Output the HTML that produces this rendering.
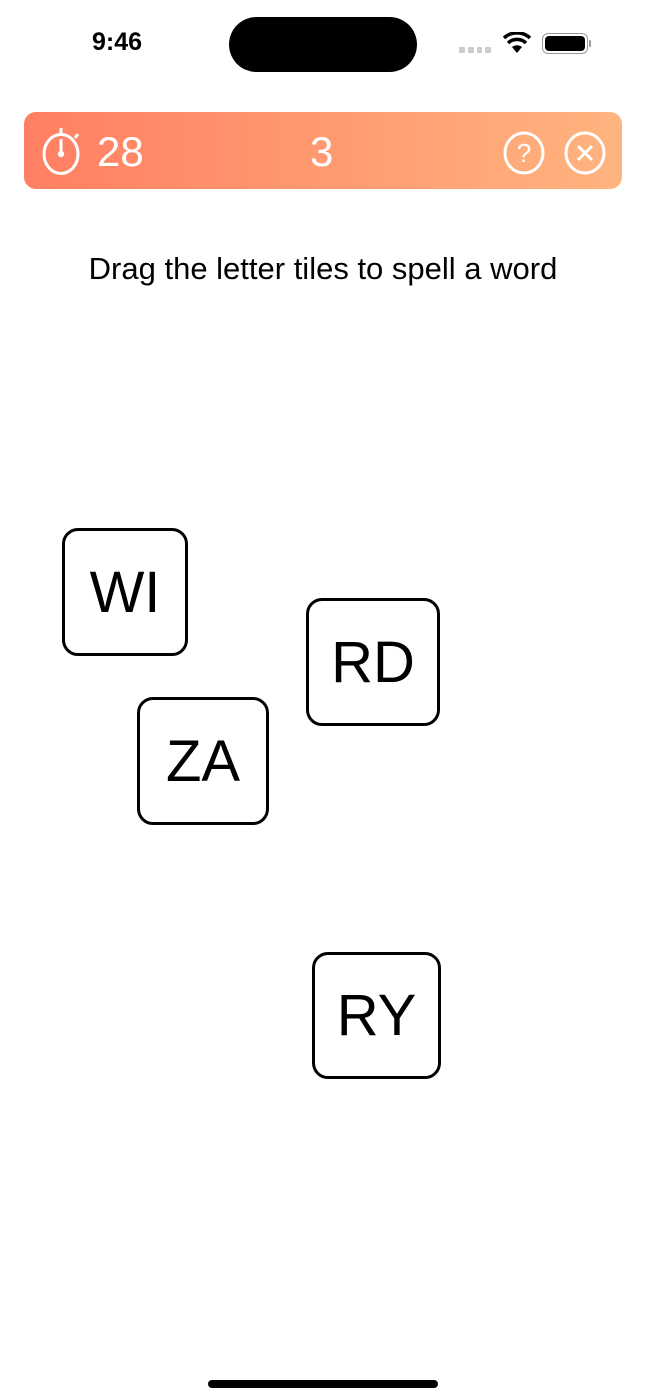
<!DOCTYPE html>
<html><head><meta charset="utf-8"><style>
*{margin:0;padding:0;box-sizing:border-box}
body{width:646px;height:1400px;background:#fff;position:relative;overflow:hidden;font-family:"Liberation Sans",sans-serif}
.abs{position:absolute}
.tile{position:absolute;border:3px solid #000;border-radius:16px;display:flex;align-items:center;justify-content:center;font-size:58px;color:#000}
</style></head><body>
<div class="abs" style="left:92px;top:28px;font-size:25px;font-weight:bold;">9:46</div>
<div class="abs" style="left:229px;top:17px;width:188px;height:55px;background:#000;border-radius:28px"></div>
<div class="abs" style="left:459px;top:47px;width:32px;height:6px;display:flex;gap:3px">
<div style="width:6px;height:6px;background:#ccc;border-radius:1px"></div><div style="width:6px;height:6px;background:#ccc;border-radius:1px"></div><div style="width:6px;height:6px;background:#ccc;border-radius:1px"></div><div style="width:6px;height:6px;background:#ccc;border-radius:1px"></div></div>
<svg class="abs" style="left:503px;top:32px" width="28" height="22" viewBox="0 0 28 22"><path d="M14 21 L9 15 A8 8 0 0 1 19 15 Z" fill="#000"/><path d="M5 11 A13 13 0 0 1 23 11" stroke="#000" stroke-width="3.5" fill="none"/><path d="M1 6 A19 19 0 0 1 27 6" stroke="#000" stroke-width="3.5" fill="none"/></svg>
<div class="abs" style="left:542px;top:33px;width:46px;height:21px;border:1.5px solid #999;border-radius:6px"></div>
<div class="abs" style="left:545px;top:36px;width:40px;height:15px;background:#000;border-radius:4px"></div>
<div class="abs" style="left:589px;top:40px;width:2px;height:7px;background:#999;border-radius:1px"></div>
<div class="abs" style="left:24px;top:112px;width:598px;height:77px;border-radius:12px;background:linear-gradient(90deg,#ff7f62,#ffb47e)"></div>
<svg class="abs" style="left:34px;top:124px" width="54" height="54" viewBox="0 0 54 54"><ellipse cx="27" cy="30" rx="17" ry="19.5" stroke="#fff" stroke-width="3" fill="none"/><line x1="27" y1="4" x2="27" y2="10" stroke="#fff" stroke-width="3"/><line x1="41" y1="14" x2="44" y2="10" stroke="#fff" stroke-width="3"/><line x1="27" y1="15" x2="27" y2="30" stroke="#fff" stroke-width="3"/><circle cx="27" cy="30" r="3.2" fill="#fff"/></svg>
<div class="abs" style="left:97px;top:128px;font-size:42px;color:#fff">28</div>
<div class="abs" style="left:310px;top:128px;font-size:42px;color:#fff">3</div>
<svg class="abs" style="left:500px;top:130px" width="50" height="46" viewBox="0 0 50 46"><ellipse cx="24" cy="23" rx="19" ry="20" stroke="#fff" stroke-width="3" fill="none"/><text x="24" y="32" text-anchor="middle" font-size="26" fill="#fff" font-family="Liberation Sans">?</text></svg>
<svg class="abs" style="left:562px;top:130px" width="46" height="46" viewBox="0 0 46 46"><ellipse cx="23" cy="23" rx="19" ry="20" stroke="#fff" stroke-width="3" fill="none"/><path d="M16 16 L30 30 M30 16 L16 30" stroke="#fff" stroke-width="3"/></svg>
<div class="abs" style="left:0;width:646px;top:251px;text-align:center;font-size:31px;color:#000">Drag the letter tiles to spell a word</div>
<div class="tile" style="left:62px;top:528px;width:126px;height:128px">WI</div>
<div class="tile" style="left:306px;top:598px;width:134px;height:128px">RD</div>
<div class="tile" style="left:137px;top:697px;width:132px;height:128px">ZA</div>
<div class="tile" style="left:312px;top:952px;width:129px;height:127px">RY</div>
<div class="abs" style="left:208px;top:1380px;width:230px;height:8px;background:#000;border-radius:4px"></div>
</body></html>
